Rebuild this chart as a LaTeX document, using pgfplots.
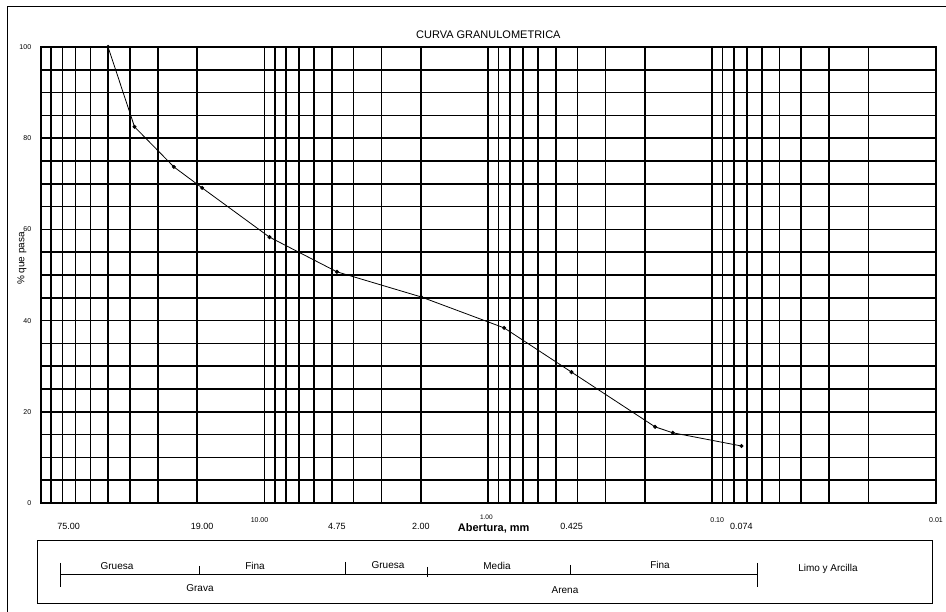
\documentclass[border=0pt]{standalone}
\usepackage{fontspec}
\setmainfont{Liberation Sans}
\usepackage{pgfplots}
\pgfplotsset{compat=1.18}
\pgfplotstableread{
d p
50 100
38.1 82.5
25.4 73.7
19.0 69.1
9.5 58.3
4.75 50.7
2.00 45.2
0.85 38.4
0.425 28.7
0.18 16.7
0.15 15.4
0.074 12.5
}\granulo
\begin{document}
\begin{tikzpicture}
\useasboundingbox (0,0) rectangle (946pt,612pt);
\draw[line width=1pt] (7pt,0pt) -- (7pt,605pt) -- (946pt,605pt);
\begin{axis}[
  at={(40.7pt,109pt)}, anchor=south west,
  scale only axis, width=895.3pt, height=456pt,
  xmode=log, x dir=reverse,
  xmin=0.01, xmax=100, ymin=0, ymax=100,
  axis line style={line width=1.7pt},
  xtick={75,19,4.75,2,0.425,0.074},
  xticklabels={75.00,19.00,4.75,2.00,0.425,0.074},
  xticklabel style={font=\fontsize{9}{10}\selectfont, yshift=-17pt},
  minor xtick={90,80,70,60,50,40,30,20,10,9,8,7,6,5,4,3,2,1,0.9,0.8,0.7,0.6,0.5,0.4,0.3,0.2,0.1,0.09,0.08,0.07,0.06,0.05,0.04,0.03,0.02},
  xmajorgrids=false, xminorgrids=true,
  ytick={0,20,40,60,80,100},
  minor ytick={5,10,15,25,30,35,45,50,55,65,70,75,85,90,95},
  ymajorgrids=true, yminorgrids=true,
  yticklabel style={font=\fontsize{7}{8}\selectfont, xshift=-6pt},
  /pgf/number format/assume math mode=true,
  grid style={black, line width=1.7pt},
  minor grid style={black, line width=1.7pt},
  major grid style={black, line width=1.7pt},
  major tick length=0pt, minor tick length=0pt,
  tick style={draw=none},
  ylabel={\% que pasa},
  every axis y label/.style={at={(rel axis cs:0,0.536)}, xshift=-18.7pt, rotate=90, anchor=center, font=\fontsize{10}{12}\selectfont},
  clip=false,
]
\addplot[black, line width=0.8pt, mark=*, mark size=1.6pt] table[x=d, y=p] {\granulo};
\node[font=\fontsize{11}{13}\selectfont] at (rel axis cs:0.5,1) [yshift=12pt] {CURVA GRANULOMETRICA};
\node[font=\bfseries\fontsize{11}{13}\selectfont] at (rel axis cs:0.506,0) [yshift=-25pt] {Abertura, mm};
\node[font=\fontsize{7}{8}\selectfont] at (axis cs:10,0) [yshift=-17pt, xshift=-5pt] {10.00};
\node[font=\fontsize{6.5}{7}\selectfont] at (axis cs:1,0) [yshift=-14.5pt, xshift=-2pt] {1.00};
\node[font=\fontsize{7}{8}\selectfont] at (axis cs:0.1,0) [yshift=-17pt, xshift=5pt] {0.10};
\node[font=\fontsize{7}{8}\selectfont] at (axis cs:0.01,0) [yshift=-17pt] {0.01};
\end{axis}
% classification box
\draw[line width=0.8pt] (37pt,9pt) rectangle (932pt,72pt);
\draw[line width=0.8pt] (60pt,38pt) -- (757pt,38pt);
\draw[line width=0.8pt] (60pt,49pt) -- (60pt,25pt);
\draw[line width=0.8pt] (757pt,49pt) -- (757pt,25pt);
\draw[line width=0.8pt] (199pt,46pt) -- (199pt,37pt);
\draw[line width=0.8pt] (345pt,50pt) -- (345pt,37pt);
\draw[line width=0.8pt] (427pt,45pt) -- (427pt,35pt);
\draw[line width=0.8pt] (570pt,47pt) -- (570pt,37pt);
\begin{scope}[every node/.style={font=\fontsize{10}{12}\selectfont}]
\node at (117pt,46pt) {Gruesa};
\node at (255pt,46pt) {Fina};
\node at (388pt,47pt) {Gruesa};
\node at (497pt,46pt) {Media};
\node at (660pt,47pt) {Fina};
\node at (828pt,43pt) {Limo y Arcilla};
\node at (200pt,24pt) {Grava};
\node at (565pt,22pt) {Arena};
\end{scope}
\end{tikzpicture}
\end{document}
